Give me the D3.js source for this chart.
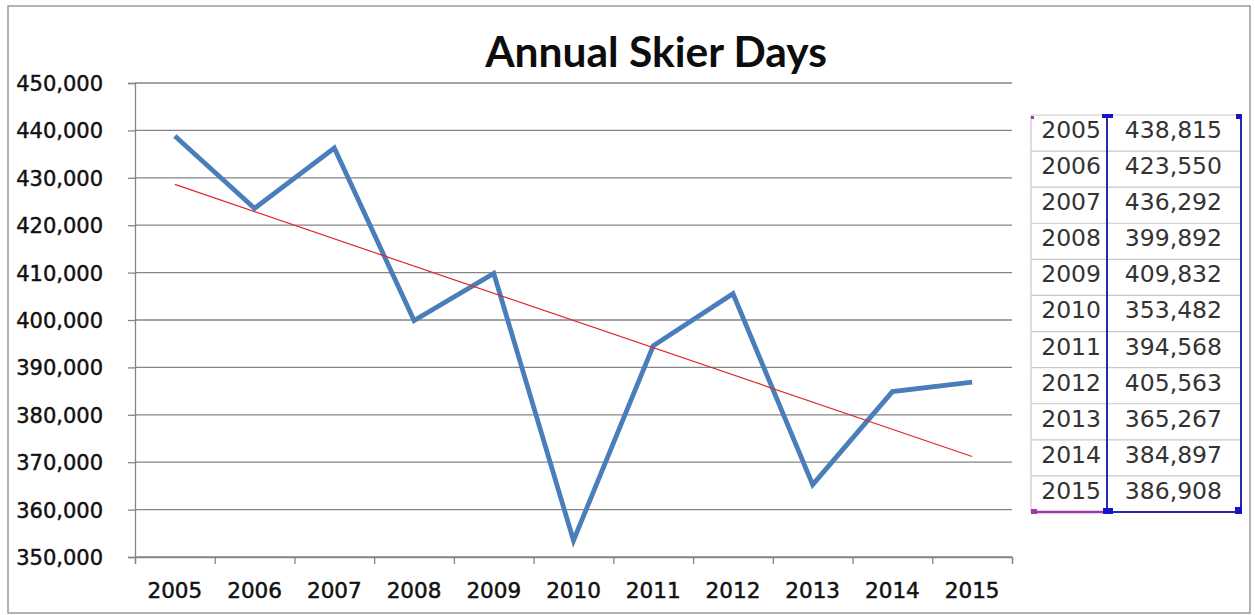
<!DOCTYPE html>
<html>
<head>
<meta charset="utf-8">
<script src="https://cdn.jsdelivr.net/npm/d3@7"></script>
<style>
  html, body { margin: 0; padding: 0; background: #fff; }
  svg { display: block; }
</style>
</head>
<body>
<svg id="chart" width="1255" height="615"></svg>
<script>
// ---- data ----
const years = ["2005","2006","2007","2008","2009","2010","2011","2012","2013","2014","2015"];
const skierDays = [438815, 423550, 436292, 399892, 409832, 353482, 394568, 405563, 365267, 384897, 386908];
const trendEnds = [428600, 371200];            // linear trendline read at 2005 and 2015
const yTicks = [350000, 360000, 370000, 380000, 390000, 400000, 410000, 420000, 430000, 440000, 450000];
const titleText = "Annual Skier Days";

// ---- layout ----
const W = 1255, H = 615;
const plot = { left: 135, right: 1012, top: 83, bottom: 557 };
const svg = d3.select("#chart");

// outer chart border
svg.append("rect")
  .attr("x", 8).attr("y", 6).attr("width", 1242).attr("height", 607)
  .attr("fill", "#fff").attr("stroke", "#9a9a9a").attr("stroke-width", 1.5);

const x = d3.scaleBand().domain(years).range([plot.left, plot.right]).padding(0);
const xEdge = d3.scaleLinear().domain([0, years.length]).range([plot.left, plot.right]);
const y = d3.scaleLinear().domain([350000, 450000]).range([plot.bottom, plot.top]);

// gridlines
svg.append("g").selectAll("line").data(yTicks).join("line")
  .attr("x1", plot.left).attr("x2", plot.right)
  .attr("y1", d => y(d)).attr("y2", d => y(d))
  .attr("stroke", "#858585").attr("stroke-width", 1.3);

// y axis
const fmt = d3.format(",");
const yAxis = svg.append("g").attr("transform", `translate(${plot.left},0)`)
  .call(d3.axisLeft(y).tickValues(yTicks).tickSize(7).tickPadding(25).tickFormat(fmt));
yAxis.select(".domain").attr("stroke", "#858585").attr("stroke-width", 1.3);
yAxis.selectAll(".tick line").attr("stroke", "#858585").attr("stroke-width", 1.3);
yAxis.selectAll("text")
  .attr("font-family", "DejaVu Sans").attr("font-size", 21).attr("fill", "#111")
  .attr("stroke", "#111").attr("stroke-width", 0.45)
  .attr("dy", "0.36em");

// x axis: ticks at category edges
const xTickAxis = svg.append("g").attr("transform", `translate(0,${plot.bottom})`)
  .call(d3.axisBottom(xEdge).tickValues(d3.range(years.length + 1)).tickSize(7).tickFormat(""));
xTickAxis.select(".domain").attr("stroke", "#858585").attr("stroke-width", 1.3);
xTickAxis.selectAll(".tick line").attr("stroke", "#858585").attr("stroke-width", 1.3);

// x axis labels at category centres
const xLab = svg.append("g").attr("transform", `translate(0,${plot.bottom})`)
  .call(d3.axisBottom(x).tickSize(0).tickPadding(26));
xLab.select(".domain").remove();
xLab.selectAll("text")
  .attr("font-family", "DejaVu Sans").attr("font-size", 21.5).attr("fill", "#111")
  .attr("stroke", "#111").attr("stroke-width", 0.5);

// series line
const line = d3.line().x((d, i) => x(years[i]) + x.bandwidth() / 2).y(d => y(d));
svg.append("path").datum(skierDays)
  .attr("d", line)
  .attr("fill", "none").attr("stroke", "#4a7ebb").attr("stroke-width", 4.8)
  .attr("stroke-linejoin", "miter");

// trendline
svg.append("line")
  .attr("x1", x(years[0]) + x.bandwidth() / 2).attr("y1", y(trendEnds[0]))
  .attr("x2", x(years[years.length - 1]) + x.bandwidth() / 2).attr("y2", y(trendEnds[1]))
  .attr("stroke", "#e0262a").attr("stroke-width", 1.2);

// title
svg.append("text")
  .attr("x", 656).attr("y", 67).attr("text-anchor", "middle")
  .attr("font-family", "Lato").attr("font-weight", "bold").attr("font-size", 42.5)
  .attr("fill", "#0d0d0d").text(titleText);

// ---- data table on the right ----
const tbl = { left: 1031, mid: 1107, right: 1241, top: 115, bottom: 512 };
const row = d3.scaleBand().domain(years).range([tbl.top, tbl.bottom]);
const tg = svg.append("g");
// cell grid
tg.selectAll("line.h").data(d3.range(years.length + 1)).join("line")
  .attr("x1", tbl.left).attr("x2", tbl.right)
  .attr("y1", i => tbl.top + i * row.step()).attr("y2", i => tbl.top + i * row.step())
  .attr("stroke", "#c9c9c9").attr("stroke-width", 1.2);
tg.append("line").attr("x1", tbl.left).attr("x2", tbl.left).attr("y1", tbl.top).attr("y2", tbl.bottom)
  .attr("stroke", "#c9c9c9").attr("stroke-width", 1.2);
// year and value text
tg.selectAll("text.yr").data(years).join("text")
  .attr("x", tbl.mid - 6).attr("y", d => row(d) + 23)
  .attr("text-anchor", "end")
  .attr("font-family", "DejaVu Sans").attr("font-size", 23.5).attr("fill", "#333")
  .text(d => d);
tg.selectAll("text.val").data(skierDays).join("text")
  .attr("x", tbl.right - 19).attr("y", (d, i) => row(years[i]) + 23)
  .attr("text-anchor", "end")
  .attr("font-family", "DejaVu Sans").attr("font-size", 23.5).attr("fill", "#333")
  .text(d => fmt(d));
// selection highlight lines
const blue = "#2a2aa8", purple = "#a03aa8";
tg.append("line").attr("x1", tbl.mid).attr("x2", tbl.mid).attr("y1", tbl.top).attr("y2", tbl.bottom)
  .attr("stroke", blue).attr("stroke-width", 2);
tg.append("line").attr("x1", tbl.right).attr("x2", tbl.right).attr("y1", tbl.top).attr("y2", tbl.bottom)
  .attr("stroke", blue).attr("stroke-width", 2);
tg.append("line").attr("x1", tbl.mid).attr("x2", tbl.right).attr("y1", tbl.bottom).attr("y2", tbl.bottom)
  .attr("stroke", blue).attr("stroke-width", 2);
tg.append("line").attr("x1", tbl.left).attr("x2", tbl.mid).attr("y1", tbl.bottom).attr("y2", tbl.bottom)
  .attr("stroke", purple).attr("stroke-width", 2.5);
// handles
const handles = [
  { x: tbl.left, y: tbl.top + 1, w: 3, h: 3, c: purple },
  { x: tbl.mid - 5, y: tbl.top - 1, w: 11, h: 4, c: "#1414c8" },
  { x: tbl.right - 5, y: tbl.top - 1, w: 6, h: 5, c: "#1414c8" },
  { x: tbl.left, y: tbl.bottom - 3, w: 6, h: 5, c: purple },
  { x: tbl.mid - 4, y: tbl.bottom - 4, w: 10, h: 6, c: "#1414c8" },
  { x: tbl.right - 6, y: tbl.bottom - 5, w: 7, h: 7, c: "#1414c8" }
];
tg.selectAll("rect.h").data(handles).join("rect")
  .attr("x", d => d.x).attr("y", d => d.y).attr("width", d => d.w).attr("height", d => d.h)
  .attr("fill", d => d.c);
</script>
</body>
</html>
